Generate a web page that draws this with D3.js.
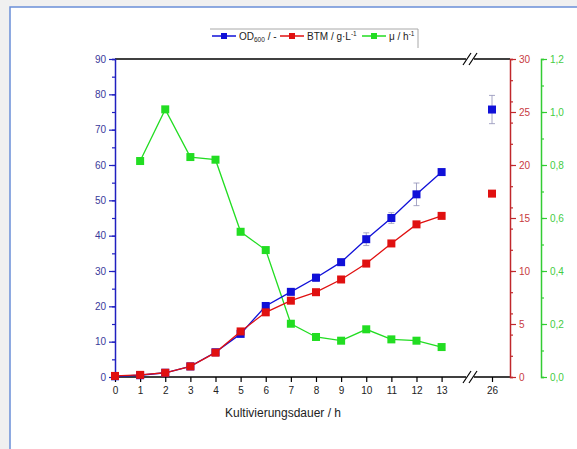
<!DOCTYPE html>
<html>
<head>
<meta charset="utf-8">
<script src="https://cdn.jsdelivr.net/npm/d3@7"></script>
<style>
  body { margin: 0; background: #f0f0f0; }
  svg text { font-family: "Liberation Sans", Arial, sans-serif; }
</style>
</head>
<body>
<div id="chart"></div>
<script>
// time points (h) and the measured series
const hours = [0, 1, 2, 3, 4, 5, 6, 7, 8, 9, 10, 11, 12, 13, 26];
const od600 = [0.2, 0.5, 1.2, 3.0, 7.0, 12.2, 20.1, 24.1, 28.1, 32.5, 39.0, 45.0, 51.7, 58.0, 75.7];
const od600Err = [0, 0, 0, 0, 0, 0, 0.5, 0.5, 1.0, 0.5, 1.8, 1.5, 3.2, 0.5, 4.0];
const btm = [0.1, 0.2, 0.4, 1.0, 2.3, 4.3, 6.1, 7.2, 8.0, 9.2, 10.7, 12.6, 14.4, 15.2, 17.3];
const muHours = [1, 2, 3, 4, 5, 6, 7, 8, 9, 10, 11, 12, 13];
const mu = [0.815, 1.01, 0.83, 0.82, 0.548, 0.479, 0.201, 0.151, 0.137, 0.18, 0.142, 0.137, 0.113];

const xTicks = [0, 1, 2, 3, 4, 5, 6, 7, 8, 9, 10, 11, 12, 13, 26];
const leftTicks = d3.range(0, 91, 10);
const redTicks = d3.range(0, 31, 5);
const greenTicks = [0, 0.2, 0.4, 0.6, 0.8, 1.0, 1.2];

const width = 577, height = 449;
const blue = "#1010d8", red = "#e01010", green = "#22dd22";
const blueAxis = "#2020c0", redAxis = "#c0282c", greenAxis = "#33cc33";

const svg = d3.select("#chart").append("svg")
  .attr("width", width).attr("height", height);

// page frame
svg.append("rect").attr("x", 10).attr("y", 7).attr("width", 600).attr("height", 460)
  .attr("fill", "#fff").attr("stroke", "#6a8fd8").attr("stroke-width", 1.5);

const pTop = 59, pBottom = 377, pLeft = 115, pRight = 510, breakX = 470;

// broken x axis: 0..~14 then 25..~27
const x = d3.scaleLinear()
  .domain([0, 14.13, 25.12, 26.72])
  .range([pLeft, breakX, breakX, pRight]);
const yL = d3.scaleLinear().domain([0, 90]).range([pBottom, pTop]);
const yR = d3.scaleLinear().domain([0, 30]).range([pBottom, pTop]);
const yG = d3.scaleLinear().domain([0, 1.2]).range([pBottom, pTop]);

// top frame line with break
svg.append("line").attr("x1", pLeft).attr("x2", breakX - 4).attr("y1", pTop).attr("y2", pTop)
  .attr("stroke", "#000").attr("stroke-width", 1.5);
svg.append("line").attr("x1", breakX + 4).attr("x2", pRight).attr("y1", pTop).attr("y2", pTop)
  .attr("stroke", "#000").attr("stroke-width", 1.5);

// bottom axis
const xAxis = svg.append("g").attr("transform", `translate(0,${pBottom})`)
  .call(d3.axisBottom(x).tickValues(xTicks).tickSize(5).tickSizeOuter(0));
xAxis.select(".domain").remove();
xAxis.selectAll("line").attr("stroke", "#000").attr("stroke-width", 1.2);
xAxis.selectAll("text").attr("font-size", 10).attr("fill", "#222").attr("dy", "0.9em");
svg.append("line").attr("x1", pLeft).attr("x2", breakX - 4).attr("y1", pBottom).attr("y2", pBottom)
  .attr("stroke", "#000").attr("stroke-width", 1.5);
svg.append("line").attr("x1", breakX + 4).attr("x2", pRight).attr("y1", pBottom).attr("y2", pBottom)
  .attr("stroke", "#000").attr("stroke-width", 1.5);

// break marks
[pTop, pBottom].forEach(yy => {
  [-3, 3].forEach(dx => {
    svg.append("line")
      .attr("x1", breakX + dx - 4).attr("y1", yy + 6)
      .attr("x2", breakX + dx + 4).attr("y2", yy - 6)
      .attr("stroke", "#000").attr("stroke-width", 1.2);
  });
});

function styleAxis(g, color, labelColor) {
  g.select(".domain").attr("stroke", color).attr("stroke-width", 1.5);
  g.selectAll(".tick line").attr("stroke", color).attr("stroke-width", 1.2);
  g.selectAll("text").attr("font-size", 10).attr("fill", labelColor);
}

// left axis (OD600)
const gL = svg.append("g").attr("transform", `translate(${pLeft},0)`);
gL.call(d3.axisLeft(yL).ticks(20).tickSize(3).tickFormat(""));
gL.append("g").call(d3.axisLeft(yL).tickValues(leftTicks).tickSize(6).tickSizeOuter(0))
  .call(g => g.select(".domain").remove());
styleAxis(gL, blueAxis, "#3a3a9a");

// right red axis (BTM)
const gR = svg.append("g").attr("transform", `translate(${pRight},0)`);
gR.call(d3.axisRight(yR).ticks(12).tickSize(3).tickFormat(""));
gR.append("g").call(d3.axisRight(yR).tickValues(redTicks).tickSize(6).tickSizeOuter(0))
  .call(g => g.select(".domain").remove());
styleAxis(gR, redAxis, "#c83a3e");

// right green axis (mu)
const gG = svg.append("g").attr("transform", `translate(541,0)`);
gG.call(d3.axisRight(yG).ticks(12).tickSize(3).tickFormat(""));
gG.append("g").call(d3.axisRight(yG).tickValues(greenTicks).tickSize(6).tickSizeOuter(0)
    .tickFormat(d => d3.format(".1f")(d).replace(".", ",")))
  .call(g => g.select(".domain").remove());
styleAxis(gG, greenAxis, "#44cc44");

// series
const odData = hours.map((h, i) => ({ h, v: od600[i], e: od600Err[i] }));
const btmData = hours.map((h, i) => ({ h, v: btm[i] }));
const muData = muHours.map((h, i) => ({ h, v: mu[i] }));

function drawSeries(data, yScale, color, lineUpTo) {
  const lineData = data.filter(d => d.h <= lineUpTo);
  svg.append("path").datum(lineData)
    .attr("fill", "none").attr("stroke", color).attr("stroke-width", 1.3)
    .attr("d", d3.line().x(d => x(d.h)).y(d => yScale(d.v)));
  svg.append("g").selectAll("rect").data(data).join("rect")
    .attr("x", d => x(d.h) - 4).attr("y", d => yScale(d.v) - 4)
    .attr("width", 8).attr("height", 8).attr("fill", color);
}

drawSeries(muData, yG, green, 13);

// OD error bars
const eb = svg.append("g").selectAll("g").data(odData.filter(d => d.e > 0)).join("g")
  .attr("stroke", "#9090b8").attr("stroke-width", 0.8);
eb.append("line").attr("x1", d => x(d.h)).attr("x2", d => x(d.h))
  .attr("y1", d => yL(d.v - d.e)).attr("y2", d => yL(d.v + d.e));
eb.append("line").attr("x1", d => x(d.h) - 3).attr("x2", d => x(d.h) + 3)
  .attr("y1", d => yL(d.v + d.e)).attr("y2", d => yL(d.v + d.e));
eb.append("line").attr("x1", d => x(d.h) - 3).attr("x2", d => x(d.h) + 3)
  .attr("y1", d => yL(d.v - d.e)).attr("y2", d => yL(d.v - d.e));

drawSeries(odData, yL, blue, 13);
drawSeries(btmData, yR, red, 13);

// x axis label
svg.append("text").attr("x", 283).attr("y", 417).attr("text-anchor", "middle")
  .attr("font-size", 12).attr("fill", "#222").text("Kultivierungsdauer / h");

// legend
const lg = svg.append("g");
lg.append("path").attr("d", "M210,29 H418 V48").attr("fill", "none")
  .attr("stroke", "#a8a8a8").attr("stroke-width", 1);
const legendItems = [
  { x: 212, color: blue, label: "OD", sub: "600", rest: " / -" },
  { x: 280, color: red, label: "BTM / g·L", sup: "-1" },
  { x: 362, color: green, label: "μ / h", sup: "-1" }
];
legendItems.forEach(it => {
  lg.append("line").attr("x1", it.x).attr("x2", it.x + 24).attr("y1", 36).attr("y2", 36)
    .attr("stroke", it.color).attr("stroke-width", 1.5);
  lg.append("rect").attr("x", it.x + 9).attr("y", 33).attr("width", 6).attr("height", 6)
    .attr("fill", it.color);
  const t = lg.append("text").attr("x", it.x + 27).attr("y", 40)
    .attr("font-size", 10).attr("fill", "#222");
  t.append("tspan").text(it.label);
  if (it.sub) {
    t.append("tspan").attr("font-size", 6.5).attr("dy", 2).text(it.sub);
    t.append("tspan").attr("dy", -2).text(it.rest);
  }
  if (it.sup) {
    t.append("tspan").attr("font-size", 6.5).attr("dy", -4).text(it.sup);
  }
});
</script>
</body>
</html>
